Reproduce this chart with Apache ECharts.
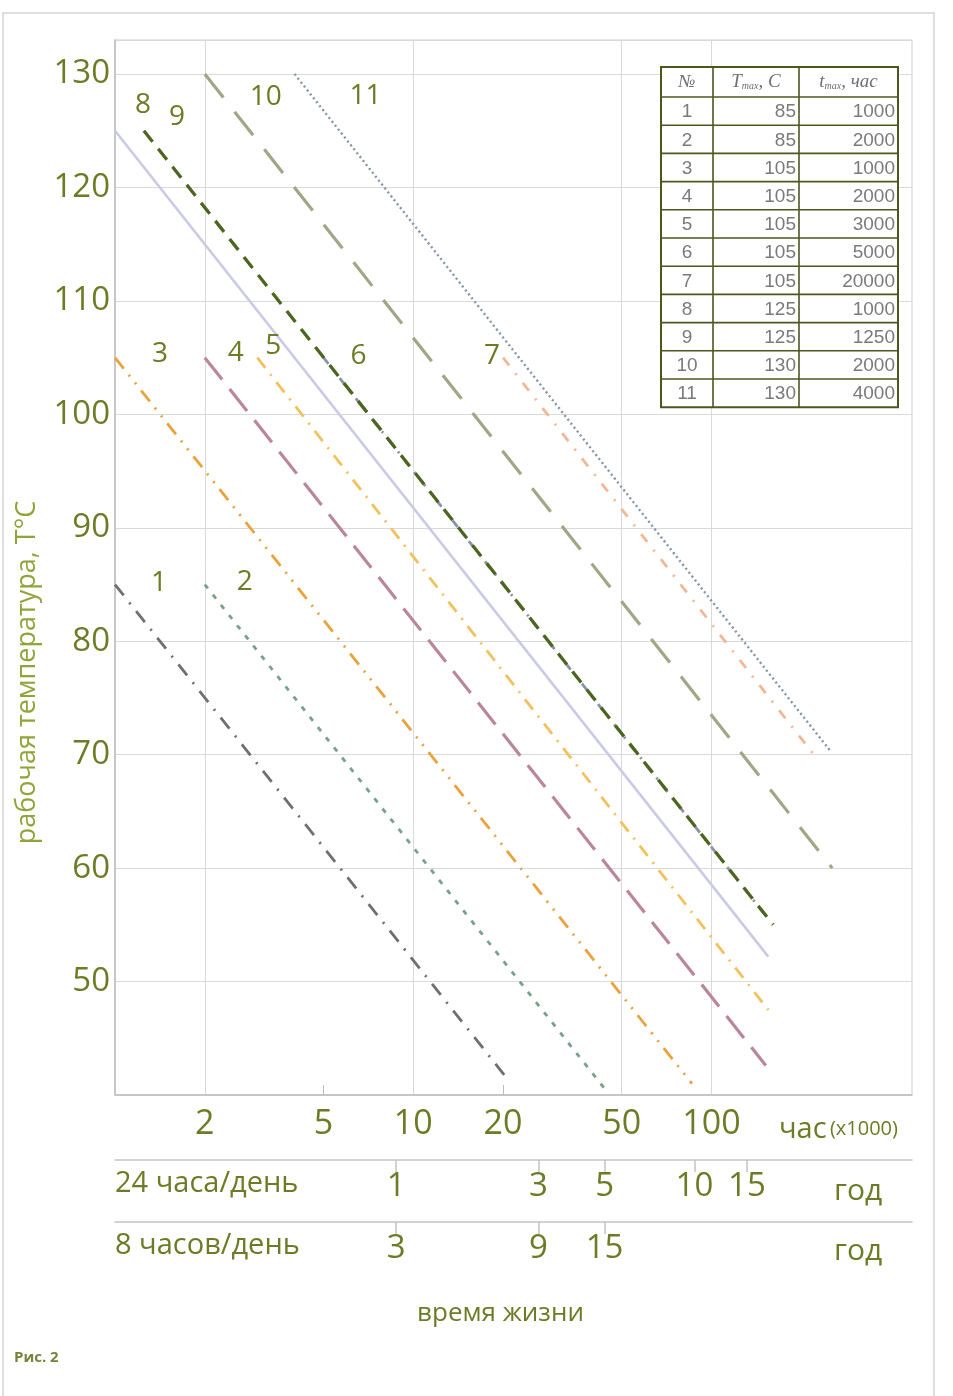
<!DOCTYPE html>
<html><head><meta charset="utf-8">
<script src="https://cdn.jsdelivr.net/npm/echarts@6/dist/echarts.min.js"></script>
<style>html,body{margin:0;padding:0;background:#fff}#c{width:953px;height:1396px}</style>
</head><body><div id="c"></div>
<script>
// ---------- data ----------
const lineNo      = [1, 2, 3, 4, 5, 6, 7, 8, 9, 10, 11];
const tMaxC       = [85, 85, 105, 105, 105, 105, 105, 125, 125, 130, 130];
const tMaxHours   = [1000, 2000, 1000, 2000, 3000, 5000, 20000, 1000, 1250, 2000, 4000];
const endHoursK   = [21, 44, 86, 152, 155, 150, 228, 155, 161, 254, 249];
const endTempC    = [41.2, 40.5, 41, 42.6, 47.5, 56, 69.5, 52.2, 55, 60, 70.4];
const hourLabels  = [2, 5, 10, 20, 50, 100];
const hourGrid    = [2, 10, 50, 100];
const hourTicks   = [5, 20];
const years24     = [1, 3, 5, 10, 15];
const years8      = [3, 9, 15];
const HOURS_K_PER_YEAR_24 = 8.76;
const HOURS_K_PER_YEAR_8  = 2.92;

// ---------- styles ----------
const OLIVE = '#6b7c26';
const FONT = '"Open Sans","Noto Sans",sans-serif';
const X_MIN = 1, X_MAX = 470;
const lineStyles = [
  {color:'#6f6f73', width:2.8, type:[14,9,2,9]},
  {color:'#78a08c', width:2.8, type:[5,8]},
  {color:'#e9a23c', width:2.8, type:[14,8,2,8,2,8]},
  {color:'#b9869c', width:3.2, type:[28,12]},
  {color:'#f2c15c', width:2.8, type:[13,8,2,8]},
  {color:'#8a93a6', width:2.8, type:[8,8,2,8]},
  {color:'#f2b896', width:2.8, type:[10,10,2,10]},
  {color:'#cacae6', width:2.6, type:'solid'},
  {color:'#4c6520', width:3.3, type:[14,9]},
  {color:'#a3a686', width:3.2, type:[30,18]},
  {color:'#8294a6', width:2.4, type:[2,3]}
];
const labelOffsets = [[44,-1],[40,-2],[45,-4],[31,-5],[16,-12],[35,-2],[-11,-2],[28,-26],[33,-14],[61,23],[71,22]];

const series = lineNo.map((n, i) => ({
  type: 'line', name: String(n), xAxisIndex: 0, yAxisIndex: 0,
  symbol: 'none', showSymbol: true, silent: true, z: 3 + (i === 7 ? -1 : 0),
  lineStyle: lineStyles[i], itemStyle: {color: lineStyles[i].color},
  data: [
    {value: [tMaxHours[i] / 1000, tMaxC[i]], symbol: 'circle', symbolSize: 0,
     label: {show: true, position: 'inside', offset: labelOffsets[i], formatter: String(n),
             color: OLIVE, fontSize: 28, fontFamily: FONT}},
    {value: [endHoursK[i], endTempC[i]], symbol: 'none'}
  ]
}));

// ---------- table (graphic) ----------
const tbl = {cols: [661, 713, 799, 898], top: 67, headH: 30, rowH: 28.2};
const tblG = [];
const tblBottom = tbl.top + tbl.headH + tbl.rowH * lineNo.length;
tblG.push({type:'rect', shape:{x:tbl.cols[0], y:tbl.top, width:tbl.cols[3]-tbl.cols[0], height:tblBottom-tbl.top},
  style:{fill:'#fff', stroke:'#4c5720', lineWidth:2}, z:10});
for (let c = 1; c < 3; c++) tblG.push({type:'line', shape:{x1:tbl.cols[c], y1:tbl.top, x2:tbl.cols[c], y2:tblBottom},
  style:{stroke:'#4c5720', lineWidth:1.6}, z:11});
for (let r = 0; r < lineNo.length; r++) {
  const y = tbl.top + tbl.headH + tbl.rowH * r;
  tblG.push({type:'line', shape:{x1:tbl.cols[0], y1:y, x2:tbl.cols[3], y2:y}, style:{stroke:'#4c5720', lineWidth:1.6}, z:11});
  const cy = y + tbl.rowH / 2 + 1;
  const ts = {fill:'#7a7a7a', fontSize:19, fontFamily:'"Liberation Sans",Arial,sans-serif', verticalAlign:'middle'};
  tblG.push({type:'text', x:(tbl.cols[0]+tbl.cols[1])/2, y:cy, z:12, style:Object.assign({text:String(lineNo[r]), align:'center'}, ts)});
  tblG.push({type:'text', x:tbl.cols[2]-3, y:cy, z:12, style:Object.assign({text:String(tMaxC[r]), align:'right'}, ts)});
  tblG.push({type:'text', x:tbl.cols[3]-3, y:cy, z:12, style:Object.assign({text:String(tMaxHours[r]), align:'right'}, ts)});
}
const hy = tbl.top + tbl.headH / 2;
const hRich = {
  i: {fontFamily:'"Liberation Serif",serif', fontStyle:'italic', fontSize:19, fill:'#6f6f6f'},
  s: {fontFamily:'"Liberation Serif",serif', fontStyle:'italic', fontSize:10, fill:'#6f6f6f', verticalAlign:'bottom', padding:[8,0,0,0]}
};
tblG.push({type:'text', x:(tbl.cols[0]+tbl.cols[1])/2, y:hy, z:12, style:{text:'№', align:'center', verticalAlign:'middle', fontFamily:'"Liberation Serif",serif', fontStyle:'italic', fontSize:18, fill:'#6f6f6f'}});
tblG.push({type:'text', x:(tbl.cols[1]+tbl.cols[2])/2, y:hy, z:12, style:{text:'{i|T}{s|max}{i|, C}', align:'center', verticalAlign:'middle', rich:hRich}});
tblG.push({type:'text', x:(tbl.cols[2]+tbl.cols[3])/2, y:hy, z:12, style:{text:'{i|t}{s|max}{i|, час}', align:'center', verticalAlign:'middle', rich:hRich}});

// ---------- other texts / frame ----------
const sideText = {fill:OLIVE, fontSize:29, fontFamily:FONT, verticalAlign:'middle'};
const extraG = [
  {type:'rect', shape:{x:3, y:13, width:931, height:1400}, style:{fill:'none', stroke:'#d4d4d4', lineWidth:1.5}, z:-1},
  {type:'text', x:115, y:1184, style:Object.assign({text:'24 часа/день', align:'left'}, sideText)},
  {type:'text', x:115, y:1246, style:Object.assign({text:'8 часов/день', align:'left'}, sideText)},
  {type:'text', x:14, y:1358, style:{text:'Рис. 2', fill:'#74843a', fontSize:15, fontWeight:'bold', fontFamily:FONT, verticalAlign:'middle'}}
];

const yearAxis = (perYear, values, offset, padTop) => ({
  type:'log', gridIndex:0, position:'bottom', offset: offset,
  min: X_MIN / perYear, max: X_MAX / perYear,
  axisLine:{show:true, lineStyle:{color:'#c4c4c4', width:1.5}},
  axisTick:{show:true, length:12, customValues: values, lineStyle:{color:'#c4c4c4', width:1.5}},
  axisLabel:{show:true, customValues: values, color:OLIVE, fontSize:33, fontFamily:FONT, margin:10, formatter: v => String(v)},
  splitLine:{show:false},
  name:'год', nameLocation:'end', nameGap:-78,
  nameTextStyle:{color:OLIVE, fontSize:30, fontFamily:FONT, align:'left', verticalAlign:'top', padding:[padTop,0,0,0]}
});

const option = {
  animation: false,
  backgroundColor: '#fff',
  grid: {left:115, right:41, top:40, bottom:301, show:true, borderColor:'#cdcdcd', borderWidth:1,
         containLabel:false, outerBoundsMode:'none'},
  xAxis: [
    { type:'log', gridIndex:0, position:'bottom', min:X_MIN, max:X_MAX,
      axisLine:{show:true, lineStyle:{color:'#bdbdbd', width:1.5}},
      axisTick:{show:true, inside:true, length:10, customValues: hourTicks, lineStyle:{color:'#bdbdbd'}},
      axisLabel:{show:true, customValues: hourLabels, color:OLIVE, fontSize:34, fontFamily:FONT, margin:12, formatter: v => String(v)},
      splitLine:{show:false},
      name:'{a|час} {b|(x1000)}', nameLocation:'end', nameGap:-133,
      nameTextStyle:{align:'left', verticalAlign:'top', padding:[20,0,0,0],
        rich:{a:{color:OLIVE, fontSize:29, fontFamily:FONT}, b:{color:OLIVE, fontSize:20, fontFamily:FONT}}}
    },
    { type:'log', gridIndex:0, position:'bottom', min:X_MIN, max:X_MAX,
      axisLine:{show:false}, axisTick:{show:false, customValues: hourGrid}, axisLabel:{show:false},
      splitLine:{show:true, lineStyle:{color:'#d9d9d9', width:1}},
      name:'время жизни', nameLocation:'middle', nameGap:206,
      nameTextStyle:{color:OLIVE, fontSize:26, fontFamily:FONT, padding:[0,26,0,0]}
    },
    yearAxis(HOURS_K_PER_YEAR_24, years24, 65, 16),
    yearAxis(HOURS_K_PER_YEAR_8, years8, 127, 14)
  ],
  yAxis: {
    type:'value', min:40, max:133, interval:10,
    axisLine:{show:true, lineStyle:{color:'#bdbdbd', width:1.5}},
    axisTick:{show:false},
    axisLabel:{color:OLIVE, fontSize:33, fontFamily:FONT, margin:5, showMinLabel:false, showMaxLabel:false},
    splitLine:{show:true, lineStyle:{color:'#d9d9d9', width:1}},
    name:'рабочая температура, Т°С', nameLocation:'middle', nameGap:74, nameRotate:90,
    nameTextStyle:{color:'#8ea53a', fontSize:27, fontFamily:FONT, padding:[0,210,0,0]}
  },
  graphic: extraG.concat(tblG),
  series: series
};

const chart = echarts.init(document.getElementById('c'), null, {renderer:'canvas'});
chart.setOption(option);
</script></body></html>
